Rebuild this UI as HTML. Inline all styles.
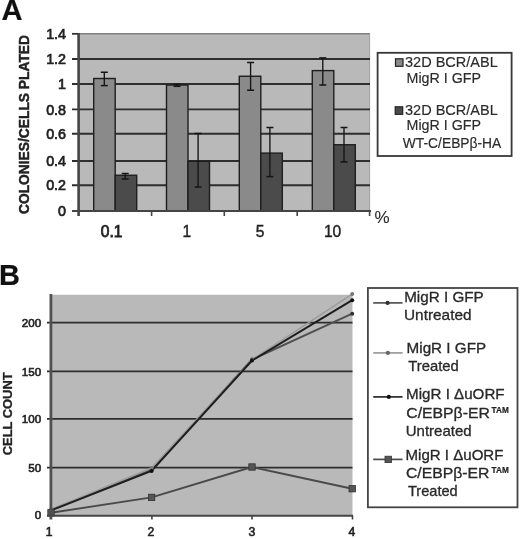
<!DOCTYPE html><html><head><meta charset="utf-8"><style>html,body{margin:0;padding:0;background:#fff;}svg{display:block}text{font-family:"Liberation Sans",Arial,sans-serif;fill:#222;stroke:#222;stroke-width:0.45px}</style></head><body>
<svg width="520" height="539" viewBox="0 0 520 539">
<text x="1.5" y="19.6" font-size="29.5" font-weight="bold" textLength="21" lengthAdjust="spacingAndGlyphs" style="fill:#111;stroke:#111;stroke-width:0.2px">A</text>
<rect x="79" y="33.5" width="291" height="177.5" fill="#b9b9b9"/>
<line x1="72" y1="33.75" x2="370" y2="33.75" stroke="#808080" stroke-width="1.4"/>
<line x1="369.6" y1="33.75" x2="369.6" y2="211" stroke="#a0a0a0" stroke-width="1"/>
<line x1="72" y1="33.75" x2="79" y2="33.75" stroke="#2e2e2e" stroke-width="1.6"/>
<line x1="72" y1="59" x2="370" y2="59" stroke="#2e2e2e" stroke-width="1.9"/>
<line x1="72" y1="84" x2="370" y2="84" stroke="#2e2e2e" stroke-width="1.9"/>
<line x1="72" y1="109.4" x2="370" y2="109.4" stroke="#2e2e2e" stroke-width="1.9"/>
<line x1="72" y1="133.75" x2="370" y2="133.75" stroke="#2e2e2e" stroke-width="1.9"/>
<line x1="72" y1="161" x2="370" y2="161" stroke="#2e2e2e" stroke-width="1.9"/>
<line x1="72" y1="185.25" x2="370" y2="185.25" stroke="#2e2e2e" stroke-width="1.9"/>
<rect x="93.70" y="78.5" width="21.5" height="132.50" fill="#8a8a8a" stroke="#1e1e1e" stroke-width="1.4"/>
<rect x="166.50" y="85" width="21.5" height="126.00" fill="#8a8a8a" stroke="#1e1e1e" stroke-width="1.4"/>
<rect x="239.30" y="76.25" width="21.5" height="134.75" fill="#8a8a8a" stroke="#1e1e1e" stroke-width="1.4"/>
<rect x="312.30" y="70.6" width="21.5" height="140.40" fill="#8a8a8a" stroke="#1e1e1e" stroke-width="1.4"/>
<rect x="115.20" y="175.25" width="21.5" height="35.75" fill="#4b4b4b" stroke="#1e1e1e" stroke-width="1.4"/>
<rect x="188.00" y="161.25" width="21.5" height="49.75" fill="#4b4b4b" stroke="#1e1e1e" stroke-width="1.4"/>
<rect x="260.80" y="153.1" width="21.5" height="57.90" fill="#4b4b4b" stroke="#1e1e1e" stroke-width="1.4"/>
<rect x="333.80" y="144.75" width="21.5" height="66.25" fill="#4b4b4b" stroke="#1e1e1e" stroke-width="1.4"/>
<line x1="104.3" y1="72.25" x2="104.3" y2="85.6" stroke="#151515" stroke-width="1.35"/>
<line x1="100.80" y1="72.25" x2="107.80" y2="72.25" stroke="#151515" stroke-width="1.5"/>
<line x1="100.80" y1="85.6" x2="107.80" y2="85.6" stroke="#151515" stroke-width="1.5"/>
<line x1="177" y1="84.4" x2="177" y2="86.3" stroke="#151515" stroke-width="1.35"/>
<line x1="173.50" y1="84.4" x2="180.50" y2="84.4" stroke="#151515" stroke-width="1.5"/>
<line x1="173.50" y1="86.3" x2="180.50" y2="86.3" stroke="#151515" stroke-width="1.5"/>
<line x1="250.6" y1="62.5" x2="250.6" y2="90.25" stroke="#151515" stroke-width="1.35"/>
<line x1="247.10" y1="62.5" x2="254.10" y2="62.5" stroke="#151515" stroke-width="1.5"/>
<line x1="247.10" y1="90.25" x2="254.10" y2="90.25" stroke="#151515" stroke-width="1.5"/>
<line x1="322.8" y1="57.9" x2="322.8" y2="85" stroke="#151515" stroke-width="1.35"/>
<line x1="319.30" y1="57.9" x2="326.30" y2="57.9" stroke="#151515" stroke-width="1.5"/>
<line x1="319.30" y1="85" x2="326.30" y2="85" stroke="#151515" stroke-width="1.5"/>
<line x1="125.2" y1="173.5" x2="125.2" y2="179" stroke="#151515" stroke-width="1.35"/>
<line x1="121.70" y1="173.5" x2="128.70" y2="173.5" stroke="#151515" stroke-width="1.5"/>
<line x1="121.70" y1="179" x2="128.70" y2="179" stroke="#151515" stroke-width="1.5"/>
<line x1="198.1" y1="133.5" x2="198.1" y2="187" stroke="#151515" stroke-width="1.35"/>
<line x1="194.60" y1="133.5" x2="201.60" y2="133.5" stroke="#151515" stroke-width="1.5"/>
<line x1="194.60" y1="187" x2="201.60" y2="187" stroke="#151515" stroke-width="1.5"/>
<line x1="269.9" y1="127.5" x2="269.9" y2="176.6" stroke="#151515" stroke-width="1.35"/>
<line x1="266.40" y1="127.5" x2="273.40" y2="127.5" stroke="#151515" stroke-width="1.5"/>
<line x1="266.40" y1="176.6" x2="273.40" y2="176.6" stroke="#151515" stroke-width="1.5"/>
<line x1="344" y1="127.5" x2="344" y2="161.9" stroke="#151515" stroke-width="1.35"/>
<line x1="340.50" y1="127.5" x2="347.50" y2="127.5" stroke="#151515" stroke-width="1.5"/>
<line x1="340.50" y1="161.9" x2="347.50" y2="161.9" stroke="#151515" stroke-width="1.5"/>
<line x1="78.6" y1="33" x2="78.6" y2="216" stroke="#444" stroke-width="2.6"/>
<line x1="72" y1="211" x2="371" y2="211" stroke="#444" stroke-width="2"/>
<line x1="151.6" y1="211" x2="151.6" y2="216" stroke="#444" stroke-width="1.6"/>
<line x1="224.3" y1="211" x2="224.3" y2="216" stroke="#444" stroke-width="1.6"/>
<line x1="297.2" y1="211" x2="297.2" y2="216" stroke="#444" stroke-width="1.6"/>
<line x1="369.6" y1="211" x2="369.6" y2="216" stroke="#444" stroke-width="1.6"/>
<text x="66" y="38.95" font-size="14.3" text-anchor="end" style="stroke-width:0.7px">1.4</text>
<text x="66" y="64.20" font-size="14.3" text-anchor="end" style="stroke-width:0.7px">1.2</text>
<text x="66" y="89.20" font-size="14.3" text-anchor="end" style="stroke-width:0.7px">1</text>
<text x="66" y="114.60" font-size="14.3" text-anchor="end" style="stroke-width:0.7px">0.8</text>
<text x="66" y="138.95" font-size="14.3" text-anchor="end" style="stroke-width:0.7px">0.6</text>
<text x="66" y="166.20" font-size="14.3" text-anchor="end" style="stroke-width:0.7px">0.4</text>
<text x="66" y="190.45" font-size="14.3" text-anchor="end" style="stroke-width:0.7px">0.2</text>
<text x="66" y="216.20" font-size="14.3" text-anchor="end" style="stroke-width:0.7px">0</text>
<text transform="translate(28.9,124.5) rotate(-90)" font-size="14.6" font-weight="bold" text-anchor="middle" textLength="179" lengthAdjust="spacingAndGlyphs">COLONIES/CELLS PLATED</text>
<text x="111.7" y="236.7" font-size="15.6" text-anchor="middle" style="stroke-width:0.75px">0.1</text>
<text x="186.8" y="236.7" font-size="15.6" text-anchor="middle" style="stroke-width:0.4px">1</text>
<text x="260" y="236.7" font-size="15.6" text-anchor="middle" style="stroke-width:0.4px">5</text>
<text x="332.6" y="236.7" font-size="15.6" text-anchor="middle" style="stroke-width:0.4px">10</text>
<text x="374.6" y="223" font-size="17" style="fill:#2a2a2a;stroke-width:0.1px">%</text>
<rect x="377.6" y="52.8" width="134" height="103.2" fill="#fff" stroke="#383838" stroke-width="1.8"/>
<rect x="395.5" y="58.8" width="7.5" height="7.5" fill="#8a8a8a" stroke="#222" stroke-width="1.2"/>
<rect x="395.2" y="106.8" width="7.5" height="7.5" fill="#4b4b4b" stroke="#222" stroke-width="1.2"/>
<text x="405" y="66.8" font-size="14" textLength="92.8" lengthAdjust="spacingAndGlyphs" style="fill:#2c2c2c;stroke-width:0.15px">32D BCR/ABL</text>
<text x="406.5" y="82.9" font-size="14" textLength="74.5" lengthAdjust="spacingAndGlyphs" style="fill:#2c2c2c;stroke-width:0.15px">MigR I GFP</text>
<text x="405" y="114.8" font-size="14" textLength="92.8" lengthAdjust="spacingAndGlyphs" style="fill:#2c2c2c;stroke-width:0.15px">32D BCR/ABL</text>
<text x="406.5" y="130.2" font-size="14" textLength="74.5" lengthAdjust="spacingAndGlyphs" style="fill:#2c2c2c;stroke-width:0.15px">MigR I GFP</text>
<text x="402.8" y="147.5" font-size="14" textLength="98.5" lengthAdjust="spacingAndGlyphs" style="fill:#2c2c2c;stroke-width:0.15px">WT-C/EBPβ-HA</text>
<text x="-0.95" y="284.6" font-size="29.5" font-weight="bold" textLength="20.9" lengthAdjust="spacingAndGlyphs" style="fill:#111;stroke:#111;stroke-width:0.2px">B</text>
<rect x="51" y="294.75" width="301.5" height="221" fill="#b9b9b9"/>
<line x1="47" y1="322.6" x2="352.5" y2="322.6" stroke="#2e2e2e" stroke-width="1.6"/>
<line x1="47" y1="371.4" x2="352.5" y2="371.4" stroke="#2e2e2e" stroke-width="1.6"/>
<line x1="47" y1="418.9" x2="352.5" y2="418.9" stroke="#2e2e2e" stroke-width="1.6"/>
<line x1="47" y1="467.6" x2="352.5" y2="467.6" stroke="#2e2e2e" stroke-width="1.6"/>
<polyline points="51.0,509.9 151.6,469.9 252.0,359.5 352.2,313.7" fill="none" stroke="#505050" stroke-width="1.9" stroke-linejoin="round"/>
<polyline points="51.0,509.4 151.6,468.0 252.0,359.7 352.2,294.1" fill="none" stroke="#9c9c9c" stroke-width="1.5" stroke-linejoin="round"/>
<polyline points="51.0,510.4 151.6,470.9 252.0,360.5 352.2,300.2" fill="none" stroke="#1e1e1e" stroke-width="2.0" stroke-linejoin="round"/>
<polyline points="51.0,512.8 151.6,497.4 252.0,467.0 352.2,488.7" fill="none" stroke="#4a4a4a" stroke-width="1.9" stroke-linejoin="round"/>
<circle cx="51.0" cy="509.9" r="2" fill="#333"/>
<circle cx="151.6" cy="469.9" r="2" fill="#333"/>
<circle cx="252.0" cy="359.5" r="2" fill="#333"/>
<circle cx="352.2" cy="313.7" r="2" fill="#333"/>
<circle cx="51.0" cy="509.4" r="2" fill="#777"/>
<circle cx="151.6" cy="468.0" r="2" fill="#777"/>
<circle cx="252.0" cy="359.7" r="2" fill="#777"/>
<circle cx="352.2" cy="294.1" r="2" fill="#777"/>
<circle cx="51.0" cy="510.4" r="2" fill="#111"/>
<circle cx="151.6" cy="470.9" r="2" fill="#111"/>
<circle cx="252.0" cy="360.5" r="2" fill="#111"/>
<circle cx="352.2" cy="300.2" r="2" fill="#111"/>
<rect x="47.8" y="509.6" width="6.4" height="6.4" fill="#555" stroke="#333" stroke-width="0.8"/>
<rect x="148.4" y="494.2" width="6.4" height="6.4" fill="#555" stroke="#333" stroke-width="0.8"/>
<rect x="248.8" y="463.8" width="6.4" height="6.4" fill="#555" stroke="#333" stroke-width="0.8"/>
<rect x="349.0" y="485.5" width="6.4" height="6.4" fill="#555" stroke="#333" stroke-width="0.8"/>
<line x1="50.9" y1="294" x2="50.9" y2="519.5" stroke="#505050" stroke-width="2.8"/>
<line x1="47" y1="515.7" x2="353" y2="515.7" stroke="#444" stroke-width="2"/>
<line x1="151.9" y1="515.7" x2="151.9" y2="519.5" stroke="#444" stroke-width="1.6"/>
<line x1="252" y1="515.7" x2="252" y2="519.5" stroke="#444" stroke-width="1.6"/>
<line x1="352.5" y1="515.7" x2="352.5" y2="519.5" stroke="#444" stroke-width="1.6"/>
<text x="41.2" y="326.70" font-size="11.6" text-anchor="end" style="stroke-width:0.6px">200</text>
<text x="41.2" y="375.50" font-size="11.6" text-anchor="end" style="stroke-width:0.6px">150</text>
<text x="41.2" y="423.00" font-size="11.6" text-anchor="end" style="stroke-width:0.6px">100</text>
<text x="41.2" y="471.70" font-size="11.6" text-anchor="end" style="stroke-width:0.6px">50</text>
<text x="41.2" y="518.90" font-size="11.6" text-anchor="end" style="stroke-width:0.6px">0</text>
<text transform="translate(12.2,413.8) rotate(-90)" font-size="12.9" font-weight="bold" text-anchor="middle" style="stroke-width:0.3px">CELL COUNT</text>
<text x="49.2" y="536" font-size="12.2" text-anchor="middle" style="stroke-width:0.6px">1</text>
<text x="150.8" y="536" font-size="12.2" text-anchor="middle" style="stroke-width:0.6px">2</text>
<text x="251.8" y="536" font-size="12.2" text-anchor="middle" style="stroke-width:0.6px">3</text>
<text x="351.8" y="536" font-size="12.2" text-anchor="middle" style="stroke-width:0.6px">4</text>
<rect x="367.9" y="288" width="149.6" height="219.3" fill="#fff" stroke="#444" stroke-width="1.8"/>
<line x1="373.2" y1="302.9" x2="402.6" y2="302.9" stroke="#555" stroke-width="1.7"/>
<circle cx="387.6" cy="302.9" r="2.1" fill="#333"/>
<text x="404.2" y="302" font-size="15" textLength="79.5" lengthAdjust="spacingAndGlyphs" style="fill:#2a2a2a;stroke-width:0.3px">MigR I GFP</text>
<text x="404.0" y="320" font-size="15" textLength="67.5" lengthAdjust="spacingAndGlyphs" style="fill:#2a2a2a;stroke-width:0.3px">Untreated</text>
<line x1="373.2" y1="352.9" x2="402.6" y2="352.9" stroke="#9a9a9a" stroke-width="1.7"/>
<circle cx="387.9" cy="352.9" r="2.1" fill="#666"/>
<text x="406.6" y="353.2" font-size="15" textLength="79.5" lengthAdjust="spacingAndGlyphs" style="fill:#2a2a2a;stroke-width:0.3px">MigR I GFP</text>
<text x="408.3" y="371.4" font-size="15" textLength="50.5" lengthAdjust="spacingAndGlyphs" style="fill:#2a2a2a;stroke-width:0.3px">Treated</text>
<line x1="373.2" y1="396.9" x2="402.6" y2="396.9" stroke="#2a2a2a" stroke-width="1.7"/>
<circle cx="388.8" cy="396.9" r="2.1" fill="#111"/>
<text x="406.1" y="398.75" font-size="15" textLength="98.5" lengthAdjust="spacingAndGlyphs" style="fill:#2a2a2a;stroke-width:0.3px">MigR I ΔuORF</text>
<text x="406.3" y="417.5" font-size="15" textLength="83.5" lengthAdjust="spacingAndGlyphs" style="fill:#2a2a2a;stroke-width:0.3px">C/EBPβ-ER</text>
<text x="491.6" y="412.90" font-size="8.6" font-weight="bold" textLength="17.2" lengthAdjust="spacingAndGlyphs" style="stroke-width:0.2px">TAM</text>
<text x="405.8" y="435.6" font-size="15" textLength="65.8" lengthAdjust="spacingAndGlyphs" style="fill:#2a2a2a;stroke-width:0.3px">Untreated</text>
<line x1="373.2" y1="459.4" x2="402.6" y2="459.4" stroke="#4a4a4a" stroke-width="1.7"/>
<rect x="385.0" y="456.2" width="6.4" height="6.4" fill="#555" stroke="#333" stroke-width="0.8"/>
<text x="405.6" y="460" font-size="15" textLength="97.8" lengthAdjust="spacingAndGlyphs" style="fill:#2a2a2a;stroke-width:0.3px">MigR I ΔuORF</text>
<text x="405.9" y="478" font-size="15" textLength="83.5" lengthAdjust="spacingAndGlyphs" style="fill:#2a2a2a;stroke-width:0.3px">C/EBPβ-ER</text>
<text x="491.6" y="473.40" font-size="8.6" font-weight="bold" textLength="17.2" lengthAdjust="spacingAndGlyphs" style="stroke-width:0.2px">TAM</text>
<text x="408.0" y="496.25" font-size="15" textLength="49.7" lengthAdjust="spacingAndGlyphs" style="fill:#2a2a2a;stroke-width:0.3px">Treated</text>
</svg></body></html>
